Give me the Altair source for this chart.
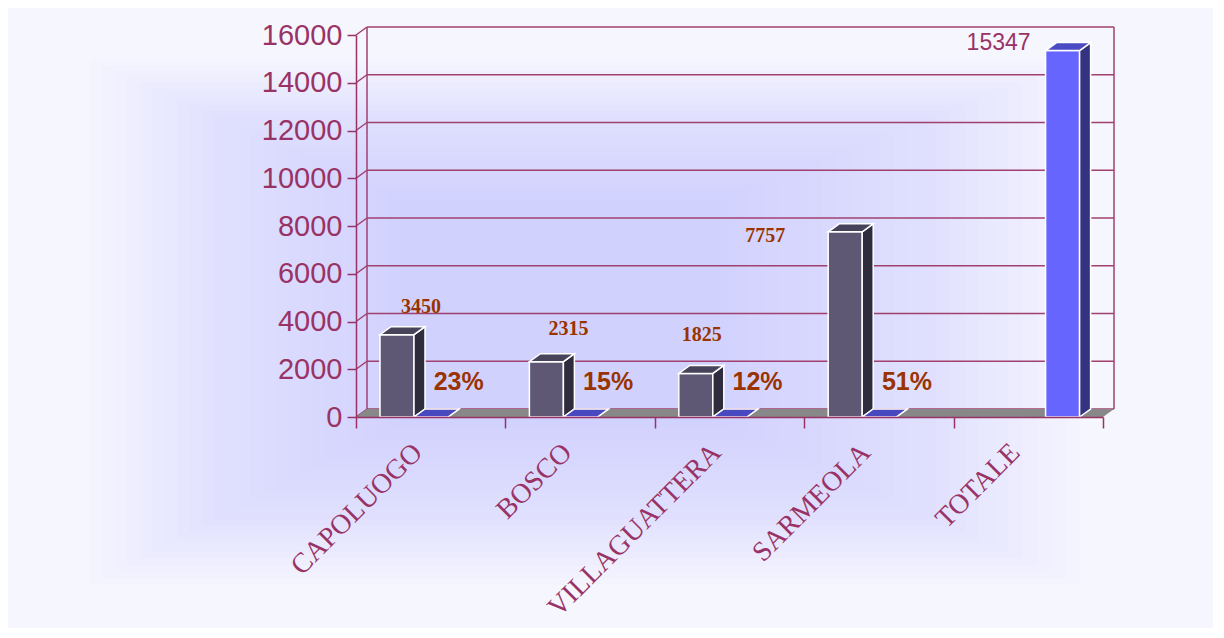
import altair as alt
import pandas as pd

# ---------------- data ----------------
CATEGORIES = ["CAPOLUOGO", "BOSCO", "VILLAGUATTERA", "SARMEOLA", "TOTALE"]
RESIDENTS = [3450, 2315, 1825, 7757]          # CAPOLUOGO..SARMEOLA
PERCENT = [23, 15, 12, 51]                    # share of total, %
TOTAL = 15347                                 # TOTALE
Y_TICKS = list(range(0, 16001, 2000))

# ---------------- layout / style ----------------
W, H = 747, 382
Y_MAX = 16000
N = len(CATEGORIES)
STEP = W / N
GAP_PX, BAR_PX, DEPTH_PX, RISE_PX = 24, 34, 11, 8
DX = DEPTH_PX / STEP            # depth in x-units
DY = RISE_PX * Y_MAX / H        # rise in y-units
BW = BAR_PX / STEP

AXIS_COLOR = "#993366"
LABEL_COLOR = "#993300"
SERIES_COLORS = {               # front, side, top
    0: ("#5e5874", "#2f2c3e", "#47435b"),
    1: ("#4646bb", "#30307f", "#4848c0"),
    2: ("#6666ff", "#333380", "#4b4bc4"),
}
NUDGE = {"CAPOLUOGO": (24, -28), "BOSCO": (22, -33), "VILLAGUATTERA": (6, -38),
         "SARMEOLA": (-80, 4), "TOTALE": (-64, -8)}

# soft rectangular background glow (pixel boxes relative to plot origin)
GLOW_OUTER = (-266, 25, 724, 550)
GLOW_INNER = (44, 165, 364, 385)
GLOW_STEPS = 26

# ---------------- derived tables ----------------
bars = [(i, 0, v) for i, v in enumerate(RESIDENTS)]
bars += [(i, 1, p / 100) for i, p in enumerate(PERCENT)]
bars.append((CATEGORIES.index("TOTALE"), 2, TOTAL))

fronts, polys, vlabels = [], [], []
for i, s, v in bars:
    x0 = i + (GAP_PX + s * BAR_PX) / STEP
    x1 = x0 + BW
    cf, cs, ct = SERIES_COLORS[s]
    fronts.append(dict(x=x0, x2=x1, y=0, y2=v, fill=cf))
    pid = f"{i}-{s}"
    polys += [dict(poly=pid + "s", x=x1, lo=0, hi=v, fill=cs),
              dict(poly=pid + "s", x=x1 + DX, lo=DY, hi=v + DY, fill=cs)]
    polys += [dict(poly=pid + "t", x=x0, lo=v, hi=v, fill=ct),
              dict(poly=pid + "t", x=x0 + DX, lo=v, hi=v + DY, fill=ct),
              dict(poly=pid + "t", x=x1, lo=v, hi=v + DY, fill=ct),
              dict(poly=pid + "t", x=x1 + DX, lo=v + DY, hi=v + DY, fill=ct)]
    if s != 1:
        vlabels.append(dict(cat=CATEGORIES[i], x=(x0 + x1) / 2, y=v, text=str(v)))

fronts = pd.DataFrame(fronts)
polys = pd.DataFrame(polys)
vlabels = pd.DataFrame(vlabels)

floor = pd.DataFrame([dict(x=0, lo=0, hi=0), dict(x=DX, lo=0, hi=DY),
                      dict(x=N, lo=0, hi=DY), dict(x=N + DX, lo=DY, hi=DY)])

rules = []
for t in Y_TICKS:
    rules.append(dict(x=DX, x2=N + DX, y=t + DY, y2=t + DY))   # back-wall grid
    rules.append(dict(x=0, x2=DX, y=t, y2=t + DY))             # connectors
for xx in (DX, N + DX):
    rules.append(dict(x=xx, x2=xx, y=DY, y2=Y_MAX + DY))        # wall edges
rules = pd.DataFrame(rules)

pct = pd.DataFrame(dict(cat=CATEGORIES[:len(PERCENT)],
                        pv=[p / 100 for p in PERCENT],
                        text=[f"{p}%" for p in PERCENT]))

glow_boxes = []
for k in range(GLOW_STEPS):
    f = k / (GLOW_STEPS - 1)
    box = [o + (n - o) * f for o, n in zip(GLOW_OUTER, GLOW_INNER)]
    glow_boxes.append(dict(gx=box[0], gy=box[1], gx2=box[2], gy2=box[3]))
glow_boxes = pd.DataFrame(glow_boxes)

# ---------------- scales / axes ----------------
XS = alt.Scale(domain=[0, N], nice=False, zero=False)
YS = alt.Scale(domain=[0, Y_MAX], nice=False, zero=True)
YAX = alt.Axis(values=Y_TICKS, format="d", title=None, grid=False, domainColor=AXIS_COLOR,
               domainWidth=1.5, tickColor=AXIS_COLOR, tickWidth=1.5, tickSize=9,
               labelFont="Liberation Sans", labelFontSize=29, labelColor=AXIS_COLOR,
               labelPadding=5, zindex=1)
XAX = alt.Axis(title=None, tickBand="extent", tickSize=11, tickColor=AXIS_COLOR,
               tickWidth=1.5, domainColor=AXIS_COLOR, domainWidth=1.5,
               labelAngle=315, labelAlign="right", labelBaseline="middle",
               labelFont="Liberation Serif", labelFontSize=28, labelColor=AXIS_COLOR,
               labelPadding=20, labelOffset=-13, labelLimit=500, labelOverlap=False,
               zindex=1)

glow = alt.Chart(glow_boxes).mark_rect(color="#bcbcf8", opacity=0.03).encode(
    x=alt.X("gx:Q", scale=None, axis=None), x2="gx2:Q",
    y=alt.Y("gy:Q", scale=None, axis=None), y2="gy2:Q")

floor_l = alt.Chart(floor).mark_area(color="#888888", orient="vertical").encode(
    x=alt.X("x:Q", scale=XS, axis=None),
    y=alt.Y("lo:Q", scale=YS, axis=YAX, stack=None), y2="hi:Q")

rules_l = alt.Chart(rules).mark_rule(color="#a0406f", strokeWidth=1.5).encode(
    x=alt.X("x:Q", scale=XS, axis=None), x2="x2:Q",
    y=alt.Y("y:Q", scale=YS, axis=YAX), y2="y2:Q")

front_l = alt.Chart(fronts).mark_rect(stroke="white", strokeWidth=1.5).encode(
    x=alt.X("x:Q", scale=XS, axis=None), x2="x2:Q",
    y=alt.Y("y:Q", scale=YS, axis=YAX), y2="y2:Q",
    fill=alt.Fill("fill:N", scale=None))

poly_l = alt.Chart(polys).mark_area(stroke="white", strokeWidth=1.5,
                                    orient="vertical", interpolate="linear").encode(
    x=alt.X("x:Q", scale=XS, axis=None),
    y=alt.Y("lo:Q", scale=YS, axis=YAX, stack=None), y2="hi:Q",
    fill=alt.Fill("fill:N", scale=None), detail="poly:N")

label_layers = []
for cat, (ddx, ddy) in NUDGE.items():
    if cat == "TOTALE":
        mk = dict(font="Liberation Sans", fontSize=23, fontWeight="normal", color=AXIS_COLOR)
    else:
        mk = dict(font="Liberation Serif", fontSize=20, fontWeight="bold", color=LABEL_COLOR)
    label_layers.append(
        alt.Chart(vlabels).transform_filter(alt.datum.cat == cat)
        .mark_text(align="center", baseline="middle", dx=ddx, dy=ddy, **mk)
        .encode(x=alt.X("x:Q", scale=XS, axis=None),
                y=alt.Y("y:Q", scale=YS, axis=YAX), text="text:N"))

inner = alt.layer(rules_l, floor_l, front_l, poly_l, *label_layers)

pct_l = alt.Chart(pct).mark_text(
    align="left", baseline="middle", dx=3, dy=-35, font="Liberation Sans",
    fontSize=25, fontWeight="bold", color=LABEL_COLOR).encode(
    x=alt.X("cat:N", scale=alt.Scale(domain=CATEGORIES, paddingInner=0, paddingOuter=0),
            axis=XAX),
    y=alt.Y("pv:Q", scale=YS, axis=YAX), text="text:N")

chart = alt.layer(glow, inner, pct_l).resolve_scale(x="independent").properties(
    width=W, height=H,
    autosize=alt.AutoSizeParams(type="none"),
    padding={"left": 348, "top": 27, "right": 110, "bottom": 211},
).configure(background="#f6f6fe").configure_view(stroke=None)

chart.save("out.html", embed_options={"renderer": "svg", "actions": False})
